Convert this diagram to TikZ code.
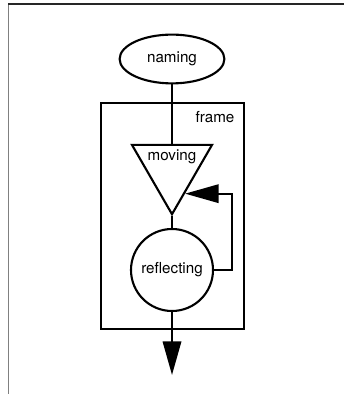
\documentclass[tikz,border=0pt]{standalone}
\usepackage{fontspec}
\setmainfont{TeX Gyre Heros}
\usepackage{tikz}
\usetikzlibrary{arrows.meta,shapes,positioning}
\tikzset{>={Triangle[length=0.84cm,width=0.46cm]},
	oval/.style={% the naming ellipse at the top
		draw, shape=ellipse,
		minimum width=2.62cm,
		minimum height=1.22cm,
		inner sep=0pt
	},
	funnel/.style={
		draw, shape=regular polygon,
		regular polygon sides=3,
		shape border rotate=180,
		minimum size=2.31cm,
		inner sep=0pt
	},
	disc/.style={
		draw, shape=circle,
		minimum size=2.05cm,
		inner sep=0pt
	},
	boxframe/.style={
		draw, rectangle,
		minimum width=3.575cm,
		minimum height=5.65cm,
		inner sep=0pt
	}
}
\begin{document}
\begin{tikzpicture}[line width=1.5pt,font=\fontsize{10.8}{13}\selectfont]
                        \useasboundingbox (0,0) rectangle (8.6,-9.85);
                        \draw [line width=0.7pt, gray] (0.2,-9.85) -- (0.2,-0.1);
                        \draw [line width=0.8pt, black!85] (0.2,-0.1) -- (8.6,-0.1);
                        \node [boxframe] (frame) at (4.3125,-5.4) {};
                        \node (framelabel) at (5.375,-2.925) {frame};
                        \node [oval] (naming) at (4.3,-1.475) {naming};
                        \node [funnel] (moving) at (4.3,-4.2) {};
                        \node (movinglabel) at (4.3,-3.925) {moving};
                        \node [disc] (reflecting) at (4.3,-6.75) {reflecting};
                        \coordinate (exit) at (4.3,-9.375);
                        \draw (naming) -- (moving);
                        \draw (moving) -- (reflecting);
                        \draw [->] (reflecting.east) -- ++(0.45,0) |- (moving.-63);
                        \draw [->] (reflecting) -- (exit);
                \end{tikzpicture}
\end{document}
